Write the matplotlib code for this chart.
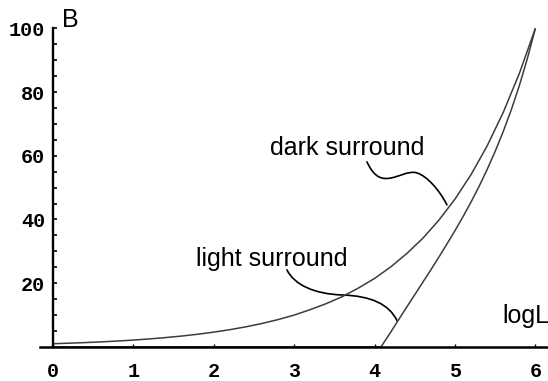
import matplotlib
matplotlib.use("Agg")
import matplotlib.pyplot as plt
from matplotlib.path import Path
from matplotlib.patches import PathPatch
from matplotlib.ticker import FixedLocator

# Brightness B versus log luminance for two surround conditions
log_l_dark = [0.0, 0.2, 0.4, 0.6, 0.8, 1.0, 1.2, 1.4, 1.6, 1.8, 2.0,
              2.2, 2.4, 2.6, 2.8, 3.0, 3.2, 3.4, 3.6, 3.8, 4.0,
              4.2, 4.4, 4.6, 4.8, 5.0, 5.2, 5.4, 5.6, 5.8, 6.0]
dark_b = [1.00, 1.17, 1.36, 1.58, 1.85, 2.15, 2.51, 2.93, 3.41, 3.98, 4.64,
          5.41, 6.31, 7.36, 8.58, 10.0, 11.7, 13.6, 15.8, 18.5, 21.5,
          25.1, 29.3, 34.1, 39.8, 46.4, 54.1, 63.1, 73.6, 85.8, 100.0]

log_l_light = [0.0, 4.08, 4.2, 4.3, 4.4, 4.5, 4.6, 4.7, 4.8, 4.9, 5.0,
               5.1, 5.2, 5.3, 5.4, 5.5, 5.6, 5.7, 5.8, 5.9, 6.0]
light_b = [0.0, 0.0, 4.6, 8.6, 12.5, 16.4, 20.3, 24.2, 28.2, 32.3, 36.5,
           40.9, 45.5, 50.4, 55.7, 61.4, 67.6, 74.4, 82.0, 90.5, 100.0]

x_ticks = [0, 1, 2, 3, 4, 5, 6]
x_tick_labels = ["0", "1", "2", "3", "4", "5", "6"]
y_ticks = [20, 40, 60, 80, 100]
y_tick_labels = ["20", "40", "60", "80", "100"]
y_minor_ticks = [5, 10, 15, 25, 30, 35, 45, 50, 55, 65, 70, 75, 85, 90, 95]

# Leader curves from the labels to the curves, as cubic Bezier control points
dark_leader = [(3.905, 58.1), (3.98, 54.0), (4.06, 52.6), (4.17, 52.9),
               (4.30, 53.2), (4.42, 55.5), (4.53, 54.6),
               (4.65, 53.6), (4.80, 49.5), (4.90, 44.6)]
light_leader = [(2.91, 24.2), (3.00, 19.5), (3.25, 16.6), (3.60, 16.3),
                (3.95, 16.0), (4.18, 13.5), (4.28, 8.2)]

fig = plt.figure(figsize=(5.48, 3.81), dpi=100)
ax = fig.add_axes([0, 0, 1, 1])
ax.set_xlim(-0.659, 6.157)
ax.set_ylim(-10.7, 108.9)

curve_color = "#3c3c3c"
ax.plot(log_l_dark, dark_b, color=curve_color, lw=1.1, solid_capstyle="butt")
ax.plot(log_l_light, light_b, color=curve_color, lw=1.1, solid_capstyle="butt")


def bezier_leader(points):
    codes = [Path.MOVETO] + [Path.CURVE4] * (len(points) - 1)
    return PathPatch(Path(points, codes), facecolor="none",
                     edgecolor="black", lw=1.2, capstyle="round")


ax.add_patch(bezier_leader(dark_leader))
ax.add_patch(bezier_leader(light_leader))

label_font = dict(family="Liberation Sans", fontsize=18, color="black")
ax.text(2.699, 60.3, "dark surround", ha="left", va="baseline", **label_font)
ax.text(1.779, 25.4, "light surround", ha="left", va="baseline", **label_font)
ax.text(5.585, 7.5, "logL", ha="left", va="baseline", **label_font)
ax.text(0.112, 100.5, "B", ha="left", va="baseline", **label_font)

# Axes crossing at the origin
for side in ("top", "right"):
    ax.spines[side].set_visible(False)
ax.spines["left"].set_position(("data", 0))
ax.spines["bottom"].set_position(("data", 0))
ax.spines["left"].set_bounds(0, 100)
ax.spines["bottom"].set_bounds(-0.16, 6.16)
ax.spines["left"].set_linewidth(1.7)
ax.spines["bottom"].set_linewidth(1.8)

ax.xaxis.set_major_locator(FixedLocator(x_ticks))
ax.set_xticklabels(x_tick_labels)
ax.yaxis.set_major_locator(FixedLocator(y_ticks))
ax.set_yticklabels(y_tick_labels)
ax.yaxis.set_minor_locator(FixedLocator(y_minor_ticks))

for lab in ax.get_xticklabels() + ax.get_yticklabels():
    lab.set_fontfamily("Liberation Mono")
    lab.set_fontweight("bold")
    lab.set_fontsize(14.5)

ax.tick_params(axis="x", which="major", direction="in", length=2.2,
               width=1.0, pad=11.0)
ax.tick_params(axis="y", which="major", direction="in", length=3.0,
               width=1.2, pad=5.5)
ax.tick_params(axis="y", which="minor", direction="in", length=3.0,
               width=1.2)

fig.savefig("out.png", dpi=100)
